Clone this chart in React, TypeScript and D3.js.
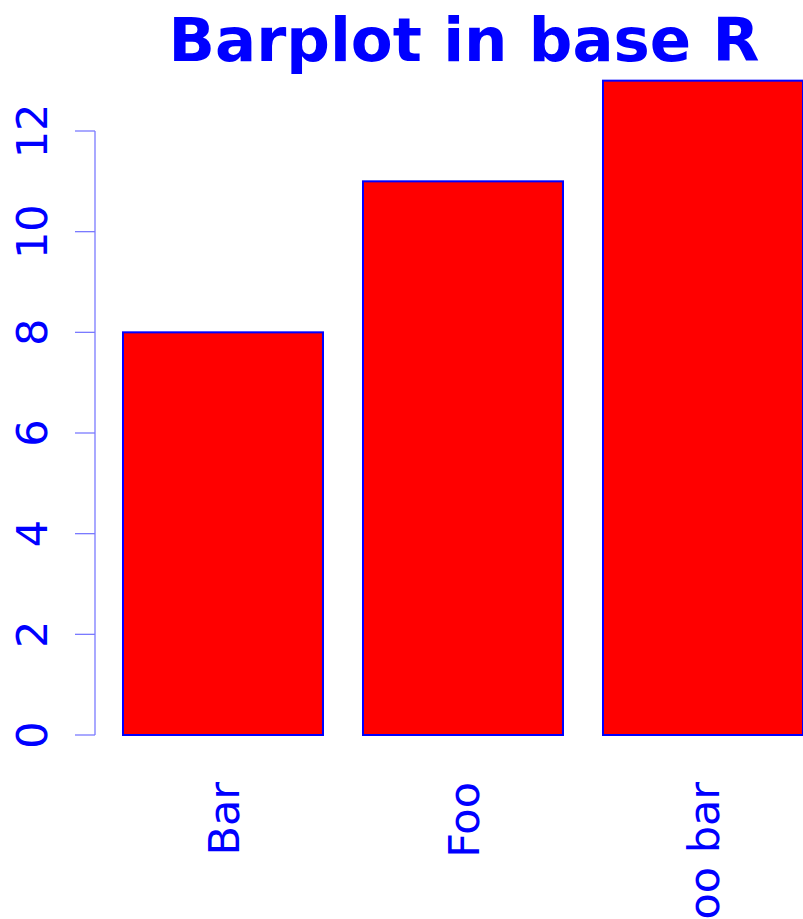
import React from "react";
import * as d3 from "d3";

const categories = ["Bar", "Foo", "Foo bar"];
const values = [8, 11, 13];
const yTicks = [0, 2, 4, 6, 8, 10, 12];
const titleText = "Barplot in base R";

const W = 803;
const H = 919;
const FONT = "'DejaVu Sans', sans-serif";
const BLUE = "#0000ff";

export default function App() {
  const y = d3.scaleLinear().domain([0, 13]).range([735, 735 - 13 * (604 / 12)]);
  const x = d3
    .scaleBand<string>()
    .domain(categories)
    .range([103, 823])
    .paddingInner(1 / 6)
    .paddingOuter(1 / 12);

  const axisX = 95;
  const tickLen = 20;
  const labelFont = 43;

  return (
    <svg
      width={W}
      height={H}
      style={{ position: "absolute", left: 0, top: 0, background: "#fff", overflow: "hidden" }}
      fontFamily={FONT}
    >
      <rect x={0} y={0} width={W} height={H} fill="#fff" />
      <text
        x={464}
        y={61}
        textAnchor="middle"
        fontWeight="bold"
        fontSize={61}
        fill={BLUE}
      >
        {titleText}
      </text>

      {categories.map((c, i) => (
        <rect
          key={c}
          x={x(c)!}
          y={y(values[i])}
          width={x.bandwidth()}
          height={y(0) - y(values[i])}
          fill="#ff0000"
          stroke={BLUE}
          strokeWidth={2}
        />
      ))}

      <g stroke="#7a7aff" strokeWidth={1.3}>
        <line
          x1={axisX}
          x2={axisX}
          y1={y(yTicks[0])}
          y2={y(yTicks[yTicks.length - 1])}
        />
        {yTicks.map((t) => (
          <line key={t} x1={axisX - tickLen} x2={axisX} y1={y(t)} y2={y(t)} />
        ))}
      </g>
      {yTicks.map((t) => (
        <text
          key={t}
          transform={`translate(47,${y(t)}) rotate(-90)`}
          textAnchor="middle"
          fontSize={labelFont}
          fill={BLUE}
        >
          {t}
        </text>
      ))}

      {categories.map((c) => (
        <text
          key={c}
          transform={`translate(${x(c)! + x.bandwidth() / 2 + 0.365 * labelFont},782) rotate(-90)`}
          textAnchor="end"
          fontSize={labelFont}
          fill={BLUE}
        >
          {c}
        </text>
      ))}
    </svg>
  );
}
